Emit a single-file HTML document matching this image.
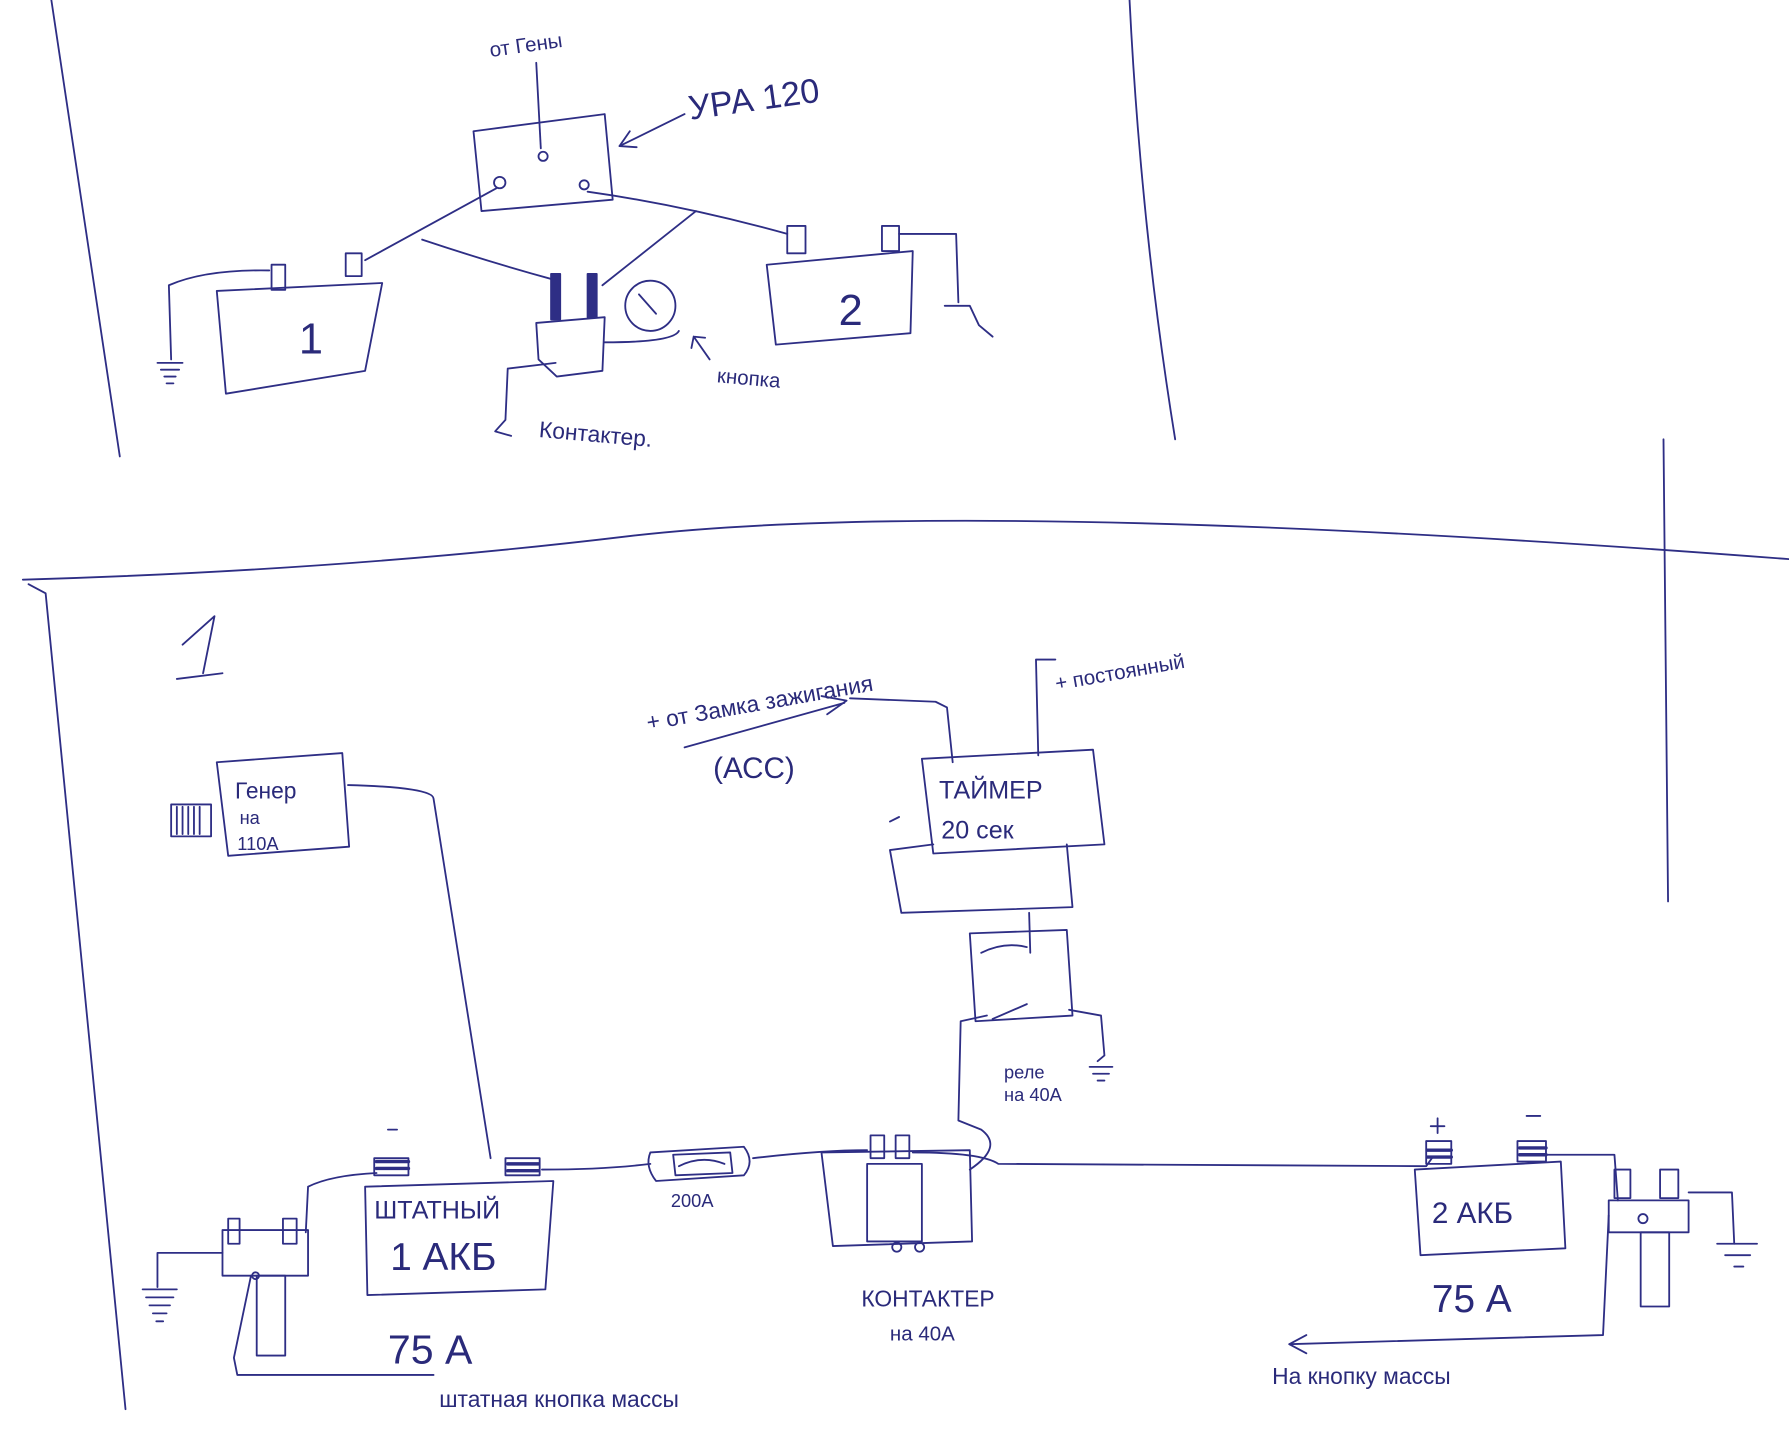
<!DOCTYPE html>
<html><head><meta charset="utf-8"><style>
html,body{margin:0;padding:0;background:#fff;width:1789px;height:1448px;overflow:hidden}
svg{display:block}
text{font-family:"Liberation Sans","DejaVu Sans",sans-serif;fill:#2a2a7a}
</style></head><body>
<svg width="1789" height="1448" viewBox="0 0 1568 1269" preserveAspectRatio="none" xmlns="http://www.w3.org/2000/svg">
<g fill="none" stroke="#2e2e85" stroke-width="1.6" stroke-linecap="round" stroke-linejoin="round">
<!-- frame top -->
<path d="M45 0 L105 400"/><path d="M990 0 Q1000 200 1030 385"/>
<path d="M20 508 Q300 500 550 470 Q850 435 1568 490"/>
<path d="M25 512 L40 520 L110 1235"/><path d="M1458 385 L1462 790"/>
<!-- top: URA box -->
<path d="M415 115 L530 100 L537 175 L422 185 Z"/>
<path d="M470 55 L474 130"/><circle cx="476" cy="137" r="4"/>
<circle cx="438" cy="160" r="5"/><circle cx="512" cy="162" r="4"/>
<path d="M543 128 L600 100"/><path d="M543 128 L552 115 M543 128 L558 129"/>
<path d="M435 165 L320 228"/>
<path d="M515 168 Q600 180 690 205"/>
<path d="M370 210 Q430 230 485 245"/><path d="M610 185 L528 250"/>
<!-- battery 1 -->
<path d="M190 255 L335 248 L320 325 L198 345 Z"/>
<rect x="238" y="232" width="12" height="22"/><rect x="303" y="222" width="14" height="20"/>
<path d="M236 237 Q180 236 148 250 L150 315"/>
<path d="M138 318 L160 318 M141 324 L157 324 M144 330 L154 330 M146 336 L152 336"/>
<!-- contactor -->
<path d="M470 283 L530 278 L528 325 L488 330 L472 315 Z"/>
<rect x="483" y="240" width="8" height="40" fill="#2e2e85"/><rect x="515" y="240" width="8" height="38" fill="#2e2e85"/>
<circle cx="570" cy="268" r="22"/><path d="M560 258 L575 275"/>
<path d="M530 300 Q590 300 595 290"/>
<path d="M608 295 L622 315 M608 295 L606 305 M608 295 L618 296"/>
<path d="M487 318 L445 323 L443 368 L434 378 L448 382"/>
<!-- battery 2 -->
<path d="M672 232 L800 220 L798 292 L680 302 Z"/>
<rect x="690" y="198" width="16" height="24"/><rect x="773" y="198" width="15" height="22"/>
<path d="M788 205 L838 205 L840 265"/>
<path d="M828 268 L850 268 L858 285 L870 295"/>
<!-- bottom: number 1 -->
<path d="M160 565 L188 540 L178 590 M155 595 L195 590"/>
<!-- generator -->
<path d="M190 668 L300 660 L306 742 L200 750 Z"/>
<rect x="150" y="705" width="35" height="28"/>
<path d="M155 707 L155 731 M160 707 L160 731 M165 707 L165 731 M170 707 L170 731 M175 707 L175 731"/>
<path d="M305 688 Q380 690 380 700 L430 1015"/>
<!-- battery 1 bottom -->
<path d="M320 1040 L485 1035 L478 1130 L322 1135 Z"/>
<rect x="328" y="1015" width="30" height="15"/><rect x="443" y="1015" width="30" height="15"/>
<path d="M330 1018 L358 1018 M330 1024 L358 1024 M445 1020 L472 1020 M445 1026 L472 1026" stroke-width="3"/>
<path d="M340 990 L348 990"/>
<path d="M330 1028 Q290 1030 270 1040 L268 1080"/>
<rect x="195" y="1078" width="75" height="40"/>
<rect x="200" y="1068" width="10" height="22"/><rect x="248" y="1068" width="12" height="22"/>
<rect x="225" y="1118" width="25" height="70"/>
<circle cx="224" cy="1118" r="3"/>
<path d="M195 1098 L138 1098 L138 1128"/>
<path d="M125 1130 L155 1130 M128 1137 L152 1137 M131 1144 L149 1144 M134 1151 L146 1151 M137 1158 L143 1158"/>
<path d="M220 1118 L205 1190 L208 1205 L380 1205"/>
<!-- fuse -->
<path d="M475 1025 Q530 1025 570 1020"/>
<path d="M570 1010 L652 1005 Q662 1018 652 1030 L575 1035 Q565 1022 570 1010 Z"/>
<path d="M590 1012 L640 1010 L642 1028 L592 1030 Z"/>
<path d="M595 1022 Q615 1012 635 1020"/>
<!-- contactor bottom -->
<path d="M660 1015 Q720 1008 760 1008"/>
<path d="M720 1010 L850 1008 L852 1088 L730 1092 Z"/>
<rect x="760" y="1020" width="48" height="68"/>
<rect x="763" y="995" width="12" height="20"/><rect x="785" y="995" width="12" height="20"/>
<circle cx="786" cy="1093" r="4"/><circle cx="806" cy="1093" r="4"/>
<path d="M800 1010 Q860 1010 875 1020 L1250 1022 L1255 1015"/>
<path d="M850 1025 Q880 1005 860 990 L840 982 L842 895 L865 890"/>
<!-- timer & relay -->
<path d="M808 665 L958 657 L968 740 L818 748 Z"/>
<path d="M835 668 L830 620 L820 615 L745 612"/>
<path d="M600 655 L740 616 M720 610 L742 614 L725 626"/>
<path d="M910 662 L908 578 L925 578"/>
<path d="M818 740 L780 745 L790 800 L940 795 L935 740"/>
<path d="M850 818 L935 815 L940 890 L855 895 Z"/>
<path d="M860 835 Q880 825 900 830 M902 800 L903 835"/>
<path d="M870 893 L900 880"/>
<path d="M937 885 L965 890 L968 925 L962 930"/>
<path d="M955 935 L975 935 M958 941 L972 941 M962 947 L968 947"/>
<path d="M780 720 L788 716"/>
<!-- battery 2 bottom -->
<path d="M1240 1025 L1368 1018 L1372 1094 L1245 1100 Z"/>
<rect x="1250" y="1000" width="22" height="20"/><rect x="1330" y="1000" width="25" height="18"/>
<path d="M1251 1008 L1272 1008 M1251 1014 L1272 1014 M1332 1006 L1355 1006 M1332 1012 L1355 1012" stroke-width="3"/>
<path d="M1260 980 L1260 993 M1254 987 L1266 987 M1338 978 L1350 978"/>
<path d="M1355 1012 L1415 1012 L1418 1052"/>
<rect x="1410" y="1052" width="70" height="28"/>
<rect x="1415" y="1025" width="14" height="25"/><rect x="1455" y="1025" width="16" height="25"/>
<rect x="1438" y="1080" width="25" height="65"/>
<circle cx="1440" cy="1068" r="4"/>
<path d="M1480 1045 L1518 1045 L1520 1090"/>
<path d="M1505 1090 L1540 1090 M1512 1100 L1534 1100 M1520 1110 L1528 1110"/>
<path d="M1410 1065 L1405 1170 L1130 1178"/>
<path d="M1130 1178 L1145 1170 M1130 1178 L1145 1186"/>
</g>
<g font-size="18">
<text x="430" y="50" transform="rotate(-8 430 50)">от Гены</text>
<text x="605" y="105" font-size="30" transform="rotate(-8 605 105)">УРА 120</text>
<text x="262" y="310" font-size="38">1</text>
<text x="735" y="285" font-size="38">2</text>
<text x="628" y="335" transform="rotate(5 628 335)">кнопка</text>
<text x="472" y="383" font-size="20" transform="rotate(5 472 383)">Контактер.</text>
<text x="206" y="700" font-size="20">Генер</text>
<text x="210" y="722" font-size="16">на</text>
<text x="208" y="745" font-size="16">110А</text>
<text x="568" y="640" font-size="20" transform="rotate(-10 568 640)">+ от Замка зажигания</text>
<text x="625" y="682" font-size="26">(АСС)</text>
<text x="926" y="605" transform="rotate(-10 926 605)">+ постоянный</text>
<text x="823" y="700" font-size="22">ТАЙМЕР</text>
<text x="825" y="735" font-size="22">20 сек</text>
<text x="880" y="945" font-size="16">реле</text>
<text x="880" y="965" font-size="16">на 40А</text>
<text x="328" y="1068" font-size="22">ШТАТНЫЙ</text>
<text x="342" y="1113" font-size="34">1 АКБ</text>
<text x="588" y="1058" font-size="16">200А</text>
<text x="1255" y="1072" font-size="26">2 АКБ</text>
<text x="340" y="1195" font-size="36">75 А</text>
<text x="1255" y="1150" font-size="34">75 А</text>
<text x="755" y="1145" font-size="20">КОНТАКТЕР</text>
<text x="780" y="1175" font-size="18">на 40А</text>
<text x="385" y="1233" font-size="20">штатная кнопка массы</text>
<text x="1115" y="1213" font-size="20">На кнопку массы</text>
</g>
</svg>
</body></html>
